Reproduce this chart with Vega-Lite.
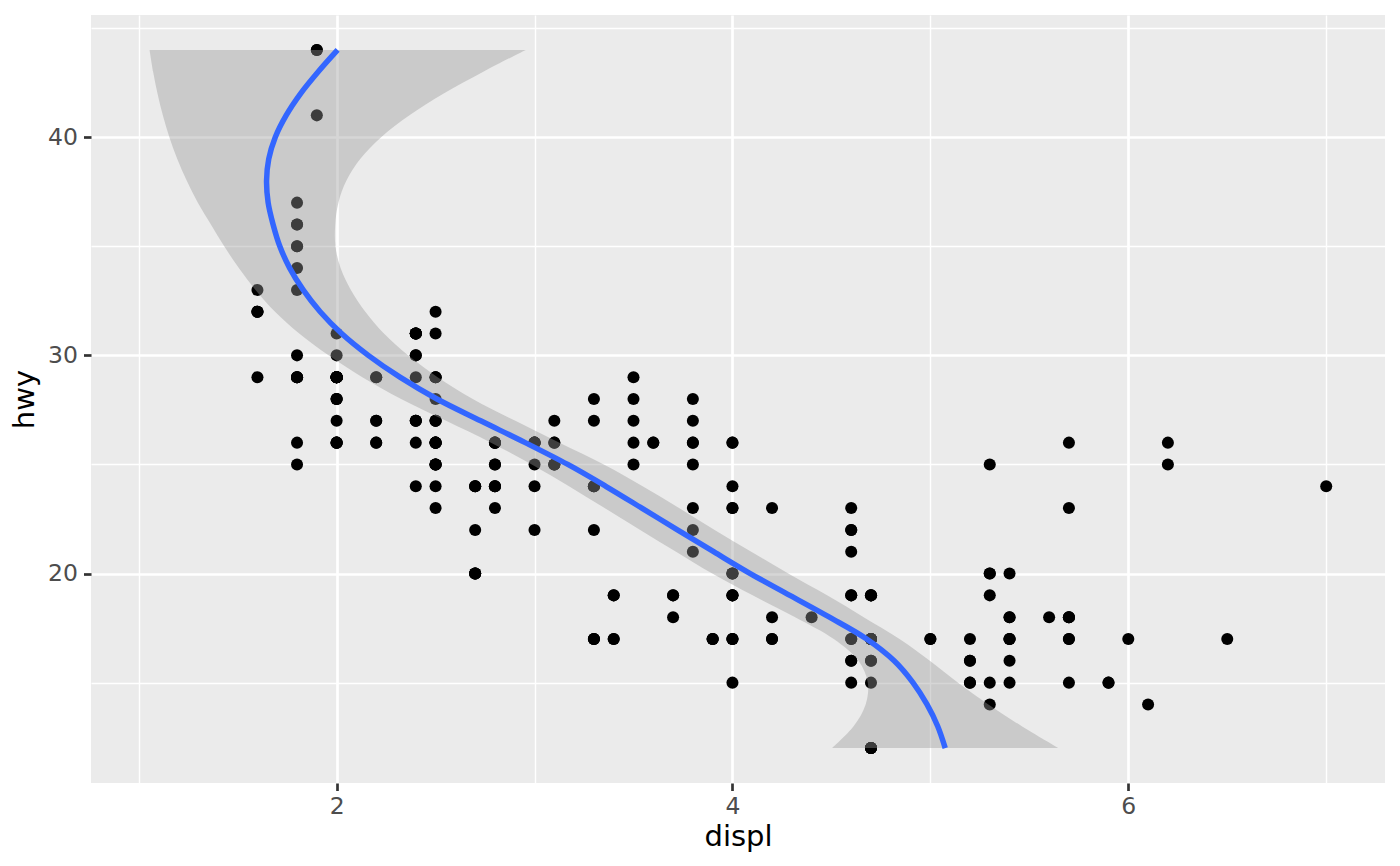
{
  "$schema": "https://vega.github.io/schema/vega-lite/v6.json",
  "width": 1294,
  "height": 768,
  "autosize": {"type": "none"},
  "padding": {"left": 91, "top": 15, "right": 15, "bottom": 83},
  "background": "white",
  "view": {"fill": "#EBEBEB", "stroke": null},
  "config": {"font": "DejaVu Sans"},
  "datasets": {
    "mpg": [
      {"displ":1.8,"hwy":29},{"displ":1.8,"hwy":29},{"displ":2.0,"hwy":31},{"displ":2.0,"hwy":30},{"displ":2.8,"hwy":26},{"displ":2.8,"hwy":26},{"displ":3.1,"hwy":27},
      {"displ":1.8,"hwy":26},{"displ":1.8,"hwy":25},{"displ":2.0,"hwy":28},{"displ":2.0,"hwy":27},{"displ":2.8,"hwy":25},{"displ":2.8,"hwy":25},{"displ":3.1,"hwy":25},{"displ":3.1,"hwy":25},
      {"displ":2.8,"hwy":24},{"displ":3.1,"hwy":25},{"displ":4.2,"hwy":23},
      {"displ":5.3,"hwy":20},{"displ":5.3,"hwy":15},{"displ":5.3,"hwy":20},{"displ":5.7,"hwy":17},{"displ":6.0,"hwy":17},
      {"displ":5.7,"hwy":26},{"displ":5.7,"hwy":23},{"displ":6.2,"hwy":26},{"displ":6.2,"hwy":25},{"displ":7.0,"hwy":24},
      {"displ":5.3,"hwy":19},{"displ":5.3,"hwy":14},{"displ":5.7,"hwy":15},{"displ":6.5,"hwy":17},
      {"displ":2.4,"hwy":27},{"displ":2.4,"hwy":30},{"displ":3.1,"hwy":26},{"displ":3.5,"hwy":29},{"displ":3.6,"hwy":26},
      {"displ":2.4,"hwy":24},{"displ":3.0,"hwy":24},{"displ":3.3,"hwy":22},{"displ":3.3,"hwy":24},{"displ":3.3,"hwy":24},{"displ":3.3,"hwy":24},{"displ":3.3,"hwy":17},{"displ":3.8,"hwy":22},{"displ":3.8,"hwy":21},{"displ":3.8,"hwy":23},{"displ":4.0,"hwy":23},
      {"displ":3.7,"hwy":19},{"displ":3.7,"hwy":18},{"displ":3.9,"hwy":17},{"displ":3.9,"hwy":17},{"displ":4.7,"hwy":19},{"displ":4.7,"hwy":19},{"displ":4.7,"hwy":12},{"displ":5.2,"hwy":17},{"displ":5.2,"hwy":15},
      {"displ":3.9,"hwy":17},{"displ":4.7,"hwy":17},{"displ":4.7,"hwy":12},{"displ":4.7,"hwy":17},{"displ":5.2,"hwy":16},{"displ":5.7,"hwy":18},{"displ":5.9,"hwy":15},
      {"displ":4.7,"hwy":16},{"displ":4.7,"hwy":12},{"displ":4.7,"hwy":17},{"displ":4.7,"hwy":17},{"displ":4.7,"hwy":16},{"displ":4.7,"hwy":12},{"displ":5.2,"hwy":15},{"displ":5.2,"hwy":16},{"displ":5.7,"hwy":17},{"displ":5.9,"hwy":15},
      {"displ":4.6,"hwy":17},{"displ":5.4,"hwy":17},{"displ":5.4,"hwy":18},
      {"displ":4.0,"hwy":17},{"displ":4.0,"hwy":19},{"displ":4.0,"hwy":17},{"displ":4.0,"hwy":19},{"displ":4.6,"hwy":19},{"displ":5.0,"hwy":17},
      {"displ":4.2,"hwy":17},{"displ":4.2,"hwy":17},{"displ":4.6,"hwy":16},{"displ":4.6,"hwy":16},{"displ":4.6,"hwy":17},{"displ":5.4,"hwy":15},{"displ":5.4,"hwy":17},
      {"displ":3.8,"hwy":26},{"displ":3.8,"hwy":25},{"displ":4.0,"hwy":26},{"displ":4.0,"hwy":24},{"displ":4.6,"hwy":21},{"displ":4.6,"hwy":22},{"displ":4.6,"hwy":23},{"displ":4.6,"hwy":22},{"displ":5.4,"hwy":20},
      {"displ":1.6,"hwy":33},{"displ":1.6,"hwy":32},{"displ":1.6,"hwy":32},{"displ":1.6,"hwy":29},{"displ":1.6,"hwy":32},{"displ":1.8,"hwy":34},{"displ":1.8,"hwy":36},{"displ":1.8,"hwy":36},{"displ":2.0,"hwy":29},
      {"displ":2.4,"hwy":26},{"displ":2.4,"hwy":27},{"displ":2.4,"hwy":30},{"displ":2.4,"hwy":31},{"displ":2.5,"hwy":26},{"displ":2.5,"hwy":26},{"displ":3.3,"hwy":28},
      {"displ":2.0,"hwy":26},{"displ":2.0,"hwy":29},{"displ":2.0,"hwy":28},{"displ":2.0,"hwy":29},{"displ":2.7,"hwy":24},{"displ":2.7,"hwy":24},{"displ":2.7,"hwy":24},
      {"displ":3.0,"hwy":22},{"displ":3.7,"hwy":19},{"displ":4.0,"hwy":20},{"displ":4.7,"hwy":17},{"displ":4.7,"hwy":12},{"displ":4.7,"hwy":19},{"displ":5.7,"hwy":18},{"displ":6.1,"hwy":14},
      {"displ":4.0,"hwy":15},{"displ":4.2,"hwy":18},{"displ":4.4,"hwy":18},{"displ":4.6,"hwy":15},
      {"displ":5.4,"hwy":17},{"displ":5.4,"hwy":16},{"displ":5.4,"hwy":18},
      {"displ":4.0,"hwy":17},{"displ":4.0,"hwy":19},{"displ":4.6,"hwy":19},{"displ":5.0,"hwy":17},
      {"displ":2.4,"hwy":29},{"displ":2.4,"hwy":27},{"displ":2.5,"hwy":31},{"displ":2.5,"hwy":32},{"displ":3.5,"hwy":27},{"displ":3.5,"hwy":26},
      {"displ":3.0,"hwy":26},{"displ":3.0,"hwy":25},{"displ":3.5,"hwy":25},
      {"displ":3.3,"hwy":17},{"displ":3.3,"hwy":17},{"displ":4.0,"hwy":20},{"displ":5.6,"hwy":18},
      {"displ":3.1,"hwy":26},{"displ":3.8,"hwy":26},{"displ":3.8,"hwy":27},{"displ":3.8,"hwy":28},{"displ":5.3,"hwy":25},
      {"displ":2.5,"hwy":25},{"displ":2.5,"hwy":24},{"displ":2.5,"hwy":27},{"displ":2.5,"hwy":25},{"displ":2.5,"hwy":26},{"displ":2.5,"hwy":23},
      {"displ":2.2,"hwy":26},{"displ":2.2,"hwy":26},{"displ":2.5,"hwy":26},{"displ":2.5,"hwy":26},{"displ":2.5,"hwy":27},{"displ":2.5,"hwy":25},{"displ":2.5,"hwy":27},{"displ":2.5,"hwy":25},
      {"displ":2.7,"hwy":20},{"displ":2.7,"hwy":20},{"displ":3.4,"hwy":19},{"displ":3.4,"hwy":17},{"displ":4.0,"hwy":20},{"displ":4.7,"hwy":17},
      {"displ":2.2,"hwy":29},{"displ":2.2,"hwy":27},{"displ":2.4,"hwy":31},{"displ":2.4,"hwy":31},{"displ":3.0,"hwy":26},{"displ":3.0,"hwy":26},{"displ":3.5,"hwy":28},
      {"displ":2.2,"hwy":27},{"displ":2.2,"hwy":29},{"displ":2.4,"hwy":31},{"displ":2.4,"hwy":31},{"displ":3.0,"hwy":26},{"displ":3.0,"hwy":26},{"displ":3.3,"hwy":27},
      {"displ":1.8,"hwy":30},{"displ":1.8,"hwy":33},{"displ":1.8,"hwy":35},{"displ":1.8,"hwy":37},{"displ":1.8,"hwy":35},
      {"displ":4.7,"hwy":15},{"displ":5.7,"hwy":18},
      {"displ":2.7,"hwy":20},{"displ":2.7,"hwy":20},{"displ":2.7,"hwy":22},{"displ":3.4,"hwy":17},{"displ":3.4,"hwy":19},{"displ":4.0,"hwy":26},{"displ":4.0,"hwy":23},
      {"displ":2.0,"hwy":29},{"displ":2.0,"hwy":26},{"displ":2.0,"hwy":29},{"displ":2.0,"hwy":29},{"displ":2.8,"hwy":24},
      {"displ":1.9,"hwy":44},{"displ":2.0,"hwy":29},{"displ":2.0,"hwy":26},{"displ":2.0,"hwy":29},{"displ":2.0,"hwy":29},{"displ":2.5,"hwy":29},{"displ":2.5,"hwy":29},{"displ":2.8,"hwy":23},{"displ":2.8,"hwy":24},
      {"displ":1.9,"hwy":44},{"displ":2.0,"hwy":29},{"displ":2.0,"hwy":26},{"displ":1.9,"hwy":41},{"displ":2.5,"hwy":28},{"displ":2.5,"hwy":29},
      {"displ":1.8,"hwy":29},{"displ":1.8,"hwy":29},{"displ":2.0,"hwy":28},{"displ":2.0,"hwy":29},{"displ":2.8,"hwy":26},{"displ":2.8,"hwy":26},{"displ":3.6,"hwy":26}
    ],
    "smooth": [
      {"hwy":44,"lo":1.055,"fit":2.005,"hi":2.955},
      {"hwy":43,"lo":1.073,"fit":1.907,"hi":2.741},
      {"hwy":42,"lo":1.095,"fit":1.818,"hi":2.541},
      {"hwy":41,"lo":1.122,"fit":1.745,"hi":2.368},
      {"hwy":40,"lo":1.155,"fit":1.690,"hi":2.225},
      {"hwy":39,"lo":1.195,"fit":1.657,"hi":2.119},
      {"hwy":38,"lo":1.243,"fit":1.646,"hi":2.049},
      {"hwy":37,"lo":1.299,"fit":1.654,"hi":2.009},
      {"hwy":36,"lo":1.365,"fit":1.679,"hi":1.993},
      {"hwy":35,"lo":1.432,"fit":1.713,"hi":1.994},
      {"hwy":34,"lo":1.506,"fit":1.763,"hi":2.020},
      {"hwy":33,"lo":1.590,"fit":1.831,"hi":2.072},
      {"hwy":32,"lo":1.689,"fit":1.917,"hi":2.145},
      {"hwy":31,"lo":1.811,"fit":2.025,"hi":2.239},
      {"hwy":30,"lo":1.959,"fit":2.160,"hi":2.361},
      {"hwy":29,"lo":2.130,"fit":2.320,"hi":2.510},
      {"hwy":28,"lo":2.326,"fit":2.507,"hi":2.688},
      {"hwy":27,"lo":2.553,"fit":2.728,"hi":2.903},
      {"hwy":26,"lo":2.780,"fit":2.953,"hi":3.126},
      {"hwy":25,"lo":2.986,"fit":3.168,"hi":3.350},
      {"hwy":24,"lo":3.174,"fit":3.360,"hi":3.546},
      {"hwy":23,"lo":3.354,"fit":3.542,"hi":3.730},
      {"hwy":22,"lo":3.534,"fit":3.722,"hi":3.910},
      {"hwy":21,"lo":3.715,"fit":3.905,"hi":4.095},
      {"hwy":20,"lo":3.898,"fit":4.090,"hi":4.282},
      {"hwy":19,"lo":4.102,"fit":4.290,"hi":4.478},
      {"hwy":18,"lo":4.317,"fit":4.490,"hi":4.663},
      {"hwy":17,"lo":4.512,"fit":4.678,"hi":4.844},
      {"hwy":16,"lo":4.637,"fit":4.817,"hi":4.997},
      {"hwy":15,"lo":4.684,"fit":4.912,"hi":5.140},
      {"hwy":14,"lo":4.673,"fit":4.983,"hi":5.293},
      {"hwy":13,"lo":4.612,"fit":5.037,"hi":5.462},
      {"hwy":12,"lo":4.503,"fit":5.075,"hi":5.647}
    ]
  },
  "layer": [
    {
      "data": {"name": "mpg"},
      "mark": {"type": "circle", "color": "black", "opacity": 1, "size": 145},
      "encoding": {
        "x": {
          "field": "displ", "type": "quantitative",
          "scale": {"domain": [0.759, 7.297], "nice": false, "zero": false},
          "axis": {"orient": "bottom", "values": [1, 3, 5, 7], "grid": true, "gridColor": "white", "gridWidth": 1.4,
                   "domain": false, "ticks": false, "labels": false, "title": null, "minExtent": 0, "maxExtent": 0}
        },
        "y": {
          "field": "hwy", "type": "quantitative",
          "scale": {"domain": [10.4, 45.6], "nice": false, "zero": false},
          "axis": {"orient": "left", "values": [15, 25, 35, 45], "grid": true, "gridColor": "white", "gridWidth": 1.4,
                   "domain": false, "ticks": false, "labels": false, "title": null, "minExtent": 0, "maxExtent": 0}
        }
      }
    },
    {
      "data": {"name": "smooth"},
      "mark": {"type": "area", "orient": "horizontal", "color": "#999999", "opacity": 0.4, "interpolate": "catmull-rom"},
      "encoding": {
        "y": {
          "field": "hwy", "type": "quantitative",
          "axis": {"orient": "left", "values": [20, 30, 40], "grid": true, "gridColor": "white", "gridWidth": 2.7,
                   "domain": false, "tickColor": "#333333", "tickWidth": 2.7, "tickSize": 7.5,
                   "labelColor": "#4D4D4D", "labelFontSize": 23.5, "labelPadding": 6,
                   "title": "hwy", "titleColor": "black", "titleFontSize": 29, "titleFontWeight": "normal", "titlePadding": 8}
        },
        "x": {
          "field": "lo", "type": "quantitative",
          "axis": {"orient": "bottom", "values": [2, 4, 6], "grid": true, "gridColor": "white", "gridWidth": 2.7,
                   "domain": false, "tickColor": "#333333", "tickWidth": 2.7, "tickSize": 7.5,
                   "labelColor": "#4D4D4D", "labelFontSize": 23.5, "labelPadding": 4, "labelFlush": false,
                   "title": "displ", "titleColor": "black", "titleFontSize": 29, "titleFontWeight": "normal", "titlePadding": 4}
        },
        "x2": {"field": "hi"}
      }
    },
    {
      "data": {"name": "smooth"},
      "mark": {"type": "line", "color": "#3366FF", "strokeWidth": 5.5, "interpolate": "catmull-rom"},
      "encoding": {
        "x": {"field": "fit", "type": "quantitative", "axis": null},
        "y": {"field": "hwy", "type": "quantitative", "axis": null},
        "order": {"field": "hwy", "type": "quantitative"}
      }
    }
  ],
  "resolve": {"axis": {"x": "independent", "y": "independent"}}
}
